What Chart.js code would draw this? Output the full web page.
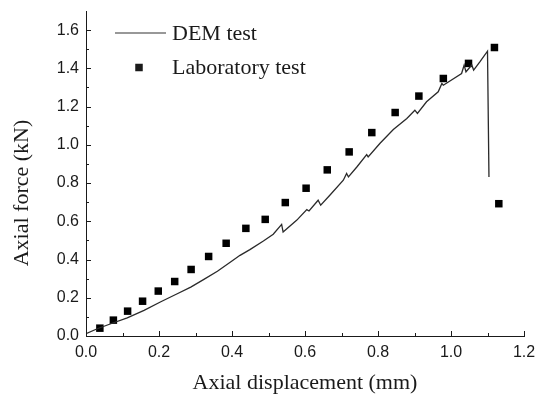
<!DOCTYPE html>
<html>
<head>
<meta charset="utf-8">
<script src="https://cdn.jsdelivr.net/npm/chart.js@4/dist/chart.umd.min.js"></script>
<style>
	html, body { margin: 0; padding: 0; background: #fff; }
	canvas { display: block; }
</style>
</head>
<body>
<canvas id="forceChart" width="535" height="398"></canvas>
<script>
// DEM simulation curve (displacement mm, force kN)
const demDisp = [0, 0.031, 0.068, 0.113, 0.159, 0.205, 0.250, 0.287, 0.323, 0.360, 0.396, 0.422, 0.449, 0.486, 0.513, 0.536, 0.540, 0.577, 0.605, 0.611, 0.636, 0.643, 0.668, 0.705, 0.714, 0.719, 0.742, 0.769, 0.773, 0.805, 0.842, 0.879, 0.901, 0.908, 0.933, 0.965, 0.975, 0.979, 1.029, 1.036, 1.041, 1.057, 1.062, 1.079, 1.100, 1.104];
const demForce = [0.012, 0.038, 0.064, 0.095, 0.134, 0.179, 0.221, 0.256, 0.296, 0.339, 0.387, 0.422, 0.452, 0.497, 0.532, 0.584, 0.544, 0.605, 0.661, 0.654, 0.710, 0.684, 0.736, 0.815, 0.850, 0.832, 0.884, 0.949, 0.937, 1.007, 1.080, 1.138, 1.181, 1.164, 1.225, 1.277, 1.321, 1.312, 1.373, 1.417, 1.382, 1.417, 1.391, 1.434, 1.490, 0.832];

// laboratory measurements
const labDisp = [0.038, 0.075, 0.114, 0.155, 0.198, 0.243, 0.288, 0.336, 0.384, 0.438, 0.491, 0.546, 0.603, 0.661, 0.721, 0.783, 0.847, 0.912, 0.979, 1.048, 1.119, 1.131];
const labForce = [0.041, 0.083, 0.130, 0.182, 0.235, 0.285, 0.348, 0.416, 0.485, 0.563, 0.610, 0.698, 0.773, 0.869, 0.963, 1.064, 1.169, 1.255, 1.347, 1.426, 1.509, 0.692];

// ticks
const xTicks = [0, 0.2, 0.4, 0.6, 0.8, 1.0, 1.2];
const yTicks = [0, 0.2, 0.4, 0.6, 0.8, 1.0, 1.2, 1.4, 1.6];
const xMinor = [0.1, 0.3, 0.5, 0.7, 0.9, 1.1];
const yMinor = [0.1, 0.3, 0.5, 0.7, 0.9, 1.1, 1.3, 1.5];

const seriesNames = ['DEM test', 'Laboratory test'];
const xTitle = 'Axial displacement (mm)';
const yTitle = 'Axial force (kN)';

const inkColor = '#1a1a1a';
const serif = '"Liberation Serif", "Times New Roman", serif';
const sans = '"Liberation Sans", Arial, sans-serif';

// inward ticks, axis titles and legend
const decorPlugin = {
	id: 'decor',
	afterDraw(chart) {
		const { ctx, chartArea: area, scales: { x, y } } = chart;
		ctx.save();
		ctx.strokeStyle = inkColor;
		ctx.lineWidth = 1;
		ctx.beginPath();
		xTicks.forEach(v => { let px = Math.round(x.getPixelForValue(v)) + 0.5; ctx.moveTo(px, area.bottom); ctx.lineTo(px, area.bottom - 5); });
		xMinor.forEach(v => { let px = Math.round(x.getPixelForValue(v)) + 0.5; ctx.moveTo(px, area.bottom); ctx.lineTo(px, area.bottom - 3); });
		yTicks.forEach(v => { let py = Math.round(y.getPixelForValue(v)) + 0.5; ctx.moveTo(area.left, py); ctx.lineTo(area.left + 5, py); });
		yMinor.forEach(v => { let py = Math.round(y.getPixelForValue(v)) + 0.5; ctx.moveTo(area.left, py); ctx.lineTo(area.left + 3, py); });
		ctx.stroke();

		// axis titles
		ctx.fillStyle = inkColor;
		ctx.font = '22px ' + serif;
		ctx.textAlign = 'center';
		ctx.textBaseline = 'middle';
		ctx.fillText(xTitle, (area.left + area.right) / 2, 383);
		ctx.save();
		ctx.translate(22, 193);
		ctx.rotate(-Math.PI / 2);
		ctx.fillText(yTitle, 0, 0);
		ctx.restore();

		// legend
		const lx = area.left + 29;
		ctx.textAlign = 'left';
		ctx.strokeStyle = '#333';
		ctx.lineWidth = 1.2;
		ctx.beginPath();
		ctx.moveTo(lx, 33);
		ctx.lineTo(lx + 51, 33);
		ctx.stroke();
		ctx.fillText(seriesNames[0], lx + 57, 34);
		ctx.fillRect(lx + 24 - 3.75, 67.5 - 3.75, 7.5, 7.5);
		ctx.fillText(seriesNames[1], lx + 57, 68.5);
		ctx.restore();
	}
};

function pairs(xs, ys) {
	return xs.map((v, i) => ({ x: v, y: ys[i] }));
}

new Chart(document.getElementById('forceChart'), {
	type: 'scatter',
	data: {
		datasets: [
			{
				label: seriesNames[0],
				data: pairs(demDisp, demForce),
				showLine: true,
				borderColor: '#2a2a2a',
				borderWidth: 1.3,
				pointRadius: 0,
				tension: 0,
			},
			{
				label: seriesNames[1],
				data: pairs(labDisp, labForce),
				showLine: false,
				pointStyle: 'rect',
				pointRadius: 5.3,
				pointBorderWidth: 0,
				backgroundColor: '#000',
				borderWidth: 0,
			}
		]
	},
	options: {
		responsive: false,
		devicePixelRatio: 1,
		animation: false,
		layout: { padding: { left: 0, right: 11, top: 11, bottom: 0 } },
		plugins: {
			legend: { display: false },
			tooltip: { enabled: false },
		},
		scales: {
			x: {
				type: 'linear',
				min: 0,
				max: 1.2,
				grid: { display: false, drawTicks: false },
				border: { display: true, color: inkColor, width: 1 },
				afterBuildTicks: scale => { scale.ticks = xTicks.map(v => ({ value: v })); },
				afterFit: scale => {
					scale.height = 62;
					scale.paddingLeft = 0;
					scale.paddingRight = 0;
				},
				ticks: {
					padding: 7,
					color: inkColor,
					font: { family: sans, size: 16 },
					maxRotation: 0,
					autoSkip: false,
					callback: v => v.toFixed(1),
				},
			},
			y: {
				type: 'linear',
				min: 0,
				max: 1.7,
				grid: { display: false, drawTicks: false },
				border: { display: true, color: inkColor, width: 1 },
				afterBuildTicks: scale => { scale.ticks = yTicks.map(v => ({ value: v })); },
				afterFit: scale => {
					scale.width = 86;
					scale.paddingTop = 0;
					scale.paddingBottom = 0;
				},
				ticks: {
					padding: 7,
					color: inkColor,
					font: { family: sans, size: 16 },
					autoSkip: false,
					callback: v => v.toFixed(1),
				},
			}
		}
	},
	plugins: [decorPlugin]
});
</script>
</body>
</html>
